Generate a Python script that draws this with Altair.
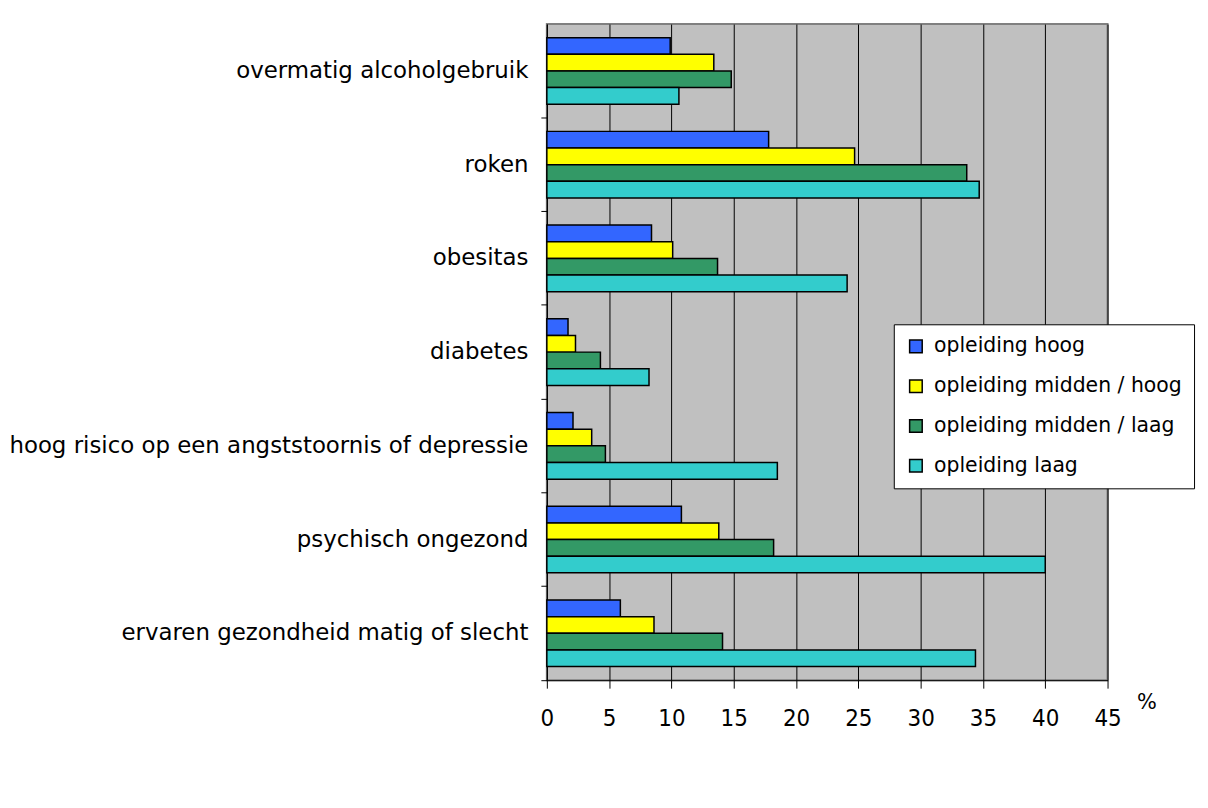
import altair as alt
import pandas as pd

categories = [
    "overmatig alcoholgebruik",
    "roken",
    "obesitas",
    "diabetes",
    "hoog risico op een angststoornis of depressie",
    "psychisch ongezond",
    "ervaren gezondheid matig of slecht",
]
series = [
    "opleiding hoog",
    "opleiding midden / hoog",
    "opleiding midden / laag",
    "opleiding laag",
]
hoog = [9.9, 17.8, 8.4, 1.7, 2.1, 10.8, 5.9]
midden_hoog = [13.4, 24.7, 10.1, 2.3, 3.6, 13.8, 8.6]
midden_laag = [14.8, 33.7, 13.7, 4.3, 4.7, 18.2, 14.1]
laag = [10.6, 34.7, 24.1, 8.2, 18.5, 40.0, 34.4]
colors = ["#3366FF", "#FFFF00", "#339966", "#33CCCC"]
x_ticks = [0, 5, 10, 15, 20, 25, 30, 35, 40, 45]

rows = []
for s, vals in zip(series, [hoog, midden_hoog, midden_laag, laag]):
    for c, v in zip(categories, vals):
        rows.append({"categorie": c, "reeks": s, "waarde": v})
df = pd.DataFrame(rows)

FONT = "DejaVu Sans"
FONT_NARROW = "DejaVu Sans Condensed"
P_IN = 0.29
P_OUT = 0.145

chart = (
    alt.Chart(df)
    .mark_bar(stroke="black", strokeWidth=1.5)
    .encode(
        x=alt.X(
            "waarde:Q",
            scale=alt.Scale(domain=[0, 45], nice=False),
            axis=alt.Axis(
                values=x_ticks,
                grid=True,
                gridColor="#000000",
                gridWidth=1,
                domainColor="black",
                domainWidth=1,
                tickColor="black",
                tickSize=8,
                labelFlush=False,
                labelFont=FONT_NARROW,
                labelFontSize=24,
                labelPadding=19,
                labelColor="black",
                title="%",
                titleFont=FONT,
                titleX=603,
                titleY=22,
                titleAlign="center",
                titleBaseline="middle",
                titleFontSize=21,
                titleFontWeight="normal",
                titleColor="black",
            ),
        ),
        y=alt.Y(
            "categorie:N",
            sort=categories,
            scale=alt.Scale(paddingInner=P_IN, paddingOuter=P_OUT),
            axis=alt.Axis(
                title=None,
                bandPosition=(1 - P_OUT) / (1 - P_IN),
                tickExtra=False,
                tickSize=6,
                tickColor="black",
                domainColor="black",
                domainWidth=1,
                labelPadding=13,
                labelFont=FONT,
                labelFontSize=23,
                labelColor="black",
                minExtent=537,
                maxExtent=537,
                grid=False,
                labelLimit=600,
            ),
        ),
        yOffset=alt.YOffset(
            "reeks:N", sort=series, scale=alt.Scale(paddingInner=0, paddingOuter=0)
        ),
        color=alt.Color(
            "reeks:N",
            sort=series,
            scale=alt.Scale(domain=series, range=colors),
            legend=alt.Legend(
                title=None,
                orient="none",
                legendX=349,
                legendY=302,
                fillColor="white",
                strokeColor="black",
                padding=12,
                symbolType="square",
                symbolSize=160,
                symbolStrokeColor="black",
                symbolStrokeWidth=1.5,
                labelFont=FONT,
                labelFontSize=20.5,
                labelColor="black",
                rowPadding=19,
                labelOffset=8,
                labelLimit=400,
            ),
        ),
    )
    .properties(
        width=564,
        height=660,
        padding={"left": 0, "top": 14, "right": 5, "bottom": 5},
        background="white",
    )
    .configure(font=FONT)
    .configure_view(fill="#C0C0C0", stroke="#808080", strokeWidth=2)
)

chart.save("out.html", embed_options={"renderer": "svg", "actions": False})
